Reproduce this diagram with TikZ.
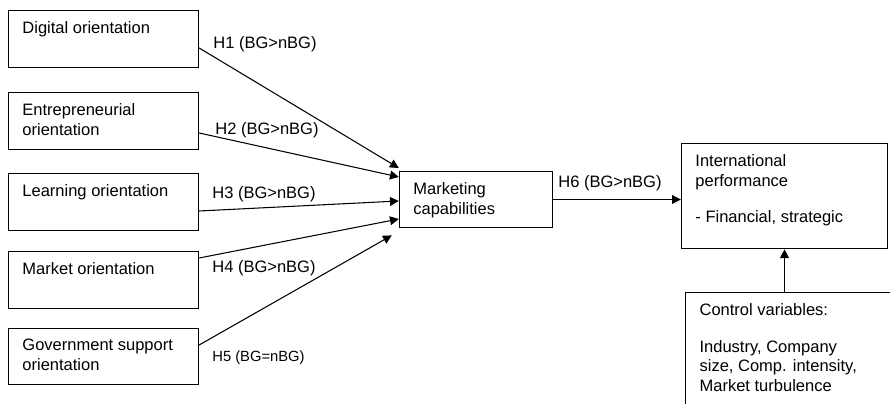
\documentclass[tikz,border=0pt]{standalone}
\usepackage{fontspec}
\setmainfont{Liberation Sans}
\usetikzlibrary{arrows.meta}
\newcommand{\boxtext}[3]{\parbox[c][#2][t]{#1}{#3}}

\begin{document}
\begin{tikzpicture}[x=0.02cm,y=-0.02cm,>={Triangle[length=5pt,width=5pt]},
  font=\fontsize{9.4}{11.3}\selectfont,line cap=round,
  factor/.style={draw,line width=0.6pt,inner xsep=8pt,inner ysep=6.3pt},
  hyp/.style={anchor=west,inner sep=0pt},
  link/.style={->,line width=0.6pt}]
\useasboundingbox (0,0) rectangle (890,404);
\clip (0,0) rectangle (890,404);
% antecedents
\node[factor] (dig) at (103.5,39) {\boxtext{92.3pt}{19.7pt}{Digital orientation}};
\node[factor] (ent) at (103.5,121) {\boxtext{92.3pt}{19.7pt}{Entrepreneurial\\orientation}};
\node[factor] (lrn) at (103.5,202) {\boxtext{92.3pt}{19.7pt}{Learning orientation}};
\node[factor] (mko) at (103.5,280) {\boxtext{92.3pt}{19.7pt}{Market orientation}};
\node[factor] (gov) at (103.5,356.5) {\boxtext{92.3pt}{19.7pt}{Government support\\orientation}};
% mediator and outcome
\node[factor] (mkt) at (476,199.5) {\boxtext{71.3pt}{19.7pt}{Marketing\\capabilities}};
\node[factor] (perf) at (784.5,196) {\boxtext{101.4pt}{47.5pt}{International\\performance\\[9.5pt]- Financial, strategic}};
\node[factor,anchor=north west] (ctrl) at (685,292) {\boxtext{103pt}{61.1pt}{Control variables:\\[9.5pt]Industry, Company\\size, Comp. intensity,\\Market turbulence}};
% paths
\draw[link] ([shift={(0,9)}]dig.east) -- ([shift={(0,-31.5)}]mkt.west);
\draw[link] ([shift={(0,12)}]ent.east) -- ([shift={(0,-22.5)}]mkt.west);
\draw[link] ([shift={(0,9)}]lrn.east) -- ([shift={(0,1.5)}]mkt.west);
\draw[link] ([shift={(0,-22)}]mko.east) -- ([shift={(0,19.5)}]mkt.west);
\draw[link] ([shift={(0,-11.5)}]gov.east) -- ([shift={(-7,7)}]mkt.south west);
\draw[link] (mkt.east) -- (mkt.east -| perf.west);
\draw[link] (perf.south |- ctrl.north) -- (perf.south);
% hypotheses
\node[hyp] (h1) at (213,44) {H1 (BG>nBG)};
\node[hyp] (h2) at (215,130) {H2 (BG>nBG)};
\node[hyp] (h3) at (212,194) {H3 (BG>nBG)};
\node[hyp] (h4) at (212,268) {H4 (BG>nBG)};
\node[hyp,font=\fontsize{8.4}{10}\selectfont] (h5) at (212,358) {H5 (BG=nBG)};
\node[hyp] (h6) at (558,183) {H6 (BG>nBG)};
\end{tikzpicture}
\end{document}
